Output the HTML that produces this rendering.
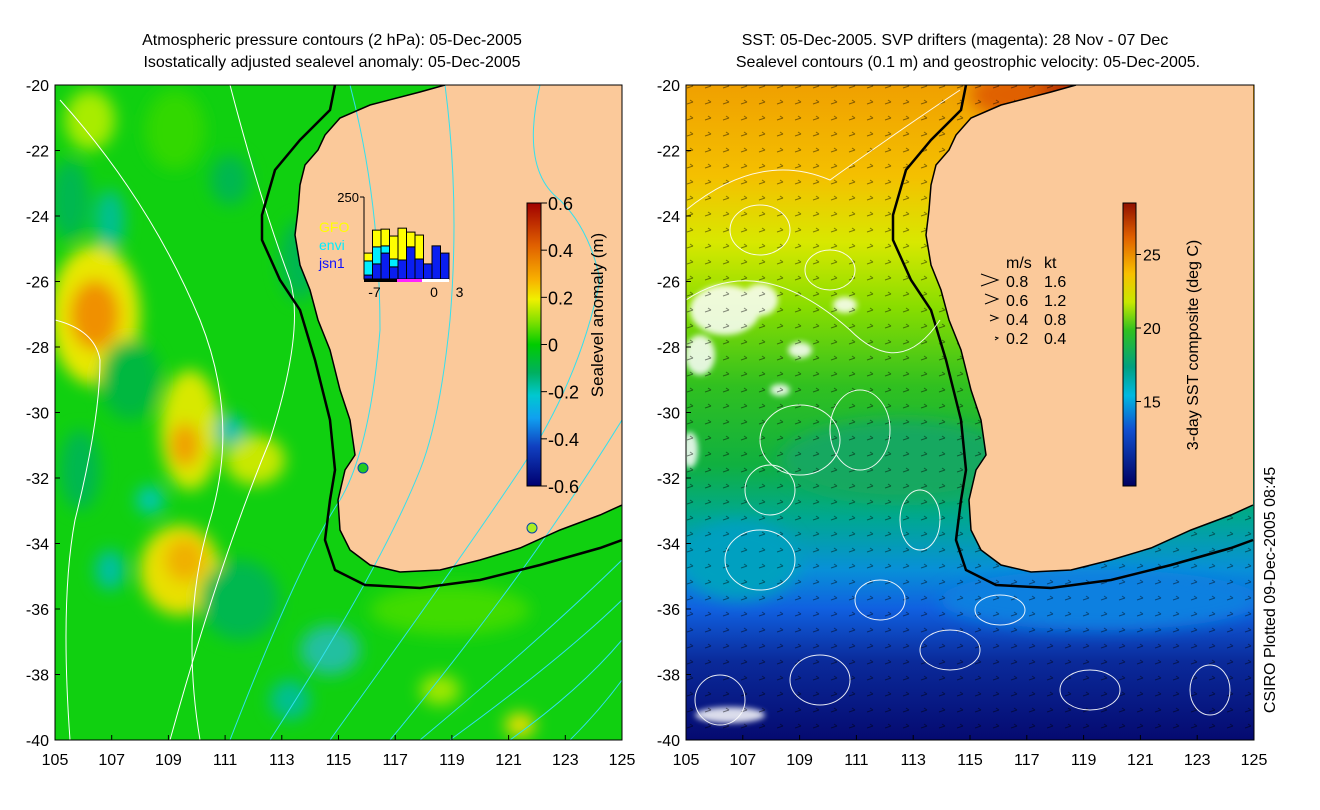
<!DOCTYPE html>
<html><head><meta charset="utf-8"><style>
html,body{margin:0;padding:0;background:#fff}
svg{display:block;font-family:"Liberation Sans",sans-serif}
</style></head><body>
<svg id="root" width="1320" height="810" viewBox="0 0 1320 810">
<defs>
<clipPath id="clipL"><rect x="55" y="85" width="567" height="655"/></clipPath>
<clipPath id="clipR"><rect x="686" y="85" width="568" height="655"/></clipPath>
<filter id="blur8" x="-50%" y="-50%" width="200%" height="200%"><feGaussianBlur stdDeviation="8"/></filter>
<filter id="blur4" x="-50%" y="-50%" width="200%" height="200%"><feGaussianBlur stdDeviation="3"/></filter>
<linearGradient id="sstg" x1="0" y1="0" x2="0" y2="1">
<stop offset="0" stop-color="#f0a000"/><stop offset="0.14" stop-color="#f4c000"/>
<stop offset="0.24" stop-color="#d8e800"/><stop offset="0.34" stop-color="#88dd00"/>
<stop offset="0.46" stop-color="#30c020"/><stop offset="0.58" stop-color="#10b040"/>
<stop offset="0.66" stop-color="#00a890"/><stop offset="0.74" stop-color="#0890d8"/>
<stop offset="0.8" stop-color="#1060e0"/><stop offset="0.88" stop-color="#0a2a9a"/>
<stop offset="1" stop-color="#050a70"/>
</linearGradient>
<linearGradient id="slacb" x1="0" y1="0" x2="0" y2="1">
<stop offset="0" stop-color="#a00000"/><stop offset="0.15" stop-color="#e06000"/>
<stop offset="0.27" stop-color="#f8b000"/><stop offset="0.34" stop-color="#f0f000"/>
<stop offset="0.42" stop-color="#80e000"/><stop offset="0.5" stop-color="#00cc00"/>
<stop offset="0.6" stop-color="#00b060"/><stop offset="0.68" stop-color="#00c8d0"/>
<stop offset="0.76" stop-color="#10a0f0"/><stop offset="0.86" stop-color="#1040c0"/>
<stop offset="1" stop-color="#000070"/>
</linearGradient>
<linearGradient id="sstcb" x1="0" y1="0" x2="0" y2="1">
<stop offset="0" stop-color="#901000"/><stop offset="0.12" stop-color="#e06000"/>
<stop offset="0.25" stop-color="#f8c000"/><stop offset="0.35" stop-color="#c8e800"/>
<stop offset="0.45" stop-color="#30c020"/><stop offset="0.58" stop-color="#00a080"/>
<stop offset="0.68" stop-color="#00b8e0"/><stop offset="0.8" stop-color="#1050d0"/>
<stop offset="1" stop-color="#000060"/>
</linearGradient>
<pattern id="arrows" width="18" height="16" patternUnits="userSpaceOnUse">
<path d="M3 8 L9 6 M9 6 L6 4" stroke="#000" stroke-width="1" fill="none"/>
</pattern>
<g id="landshape">
<path d="M445 85 L420 92 L370 105 L340 118 L325 135 L318 150 L305 165 L300 185 L298 210 L295 235 L300 265 L310 290 L318 320 L330 350 L340 390 L350 420 L355 455 L345 470 L338 500 L340 530 L350 550 L370 565 L400 572 L440 570 L480 560 L520 548 L560 530 L600 515 L622 505 L622 85 Z" fill="#fbc99a"/>
</g>
<g id="shelf">
<path d="M445 85 L420 92 L370 105 L340 118 L325 135 L318 150 L305 165 L300 185 L298 210 L295 235 L300 265 L310 290 L318 320 L330 350 L340 390 L350 420 L355 455 L345 470 L338 500 L340 530 L350 550 L370 565 L400 572 L440 570 L480 560 L520 548 L560 530 L600 515 L622 505" fill="none" stroke="#000" stroke-width="1.5"/>
<path d="M335 85 L330 110 L300 140 L275 170 L262 215 L262 240 L280 280 L300 310 L315 360 L330 420 L335 470 L330 500 L325 540 L335 570 L365 585 L420 588 L480 580 L540 565 L600 548 L622 540" fill="none" stroke="#000" stroke-width="2.5"/>
</g>
</defs>

<!-- LEFT PANEL -->
<g clip-path="url(#clipL)">
<rect x="55" y="85" width="567" height="655" fill="#10d010"/>
<g filter="url(#blur8)">
<ellipse cx="95" cy="315" rx="45" ry="70" fill="#e8e800"/>
<ellipse cx="95" cy="315" rx="25" ry="35" fill="#f09000"/>
<ellipse cx="90" cy="120" rx="25" ry="30" fill="#a8ec00"/>
<ellipse cx="190" cy="430" rx="30" ry="60" fill="#d8e800"/>
<ellipse cx="185" cy="445" rx="15" ry="22" fill="#f0a000"/>
<ellipse cx="180" cy="570" rx="40" ry="45" fill="#e8e000"/>
<ellipse cx="185" cy="560" rx="20" ry="22" fill="#f0b000"/>
<ellipse cx="255" cy="460" rx="30" ry="25" fill="#c8e800"/>
<ellipse cx="150" cy="500" rx="14" ry="14" fill="#00c8b0"/>
<ellipse cx="230" cy="430" rx="15" ry="15" fill="#00c0b0"/>
<ellipse cx="110" cy="220" rx="15" ry="30" fill="#00c090"/>
<ellipse cx="70" cy="200" rx="20" ry="40" fill="#00b850"/>
<ellipse cx="130" cy="380" rx="30" ry="40" fill="#00b840"/>
<ellipse cx="240" cy="600" rx="40" ry="40" fill="#00b850"/>
<ellipse cx="330" cy="650" rx="30" ry="25" fill="#20c0a0"/>
<ellipse cx="440" cy="690" rx="20" ry="15" fill="#a0e800"/>
<ellipse cx="520" cy="725" rx="15" ry="12" fill="#f0e000"/>
<ellipse cx="290" cy="700" rx="20" ry="20" fill="#00c090"/>
<ellipse cx="110" cy="570" rx="15" ry="20" fill="#00c0a0"/>
<ellipse cx="300" cy="260" rx="20" ry="40" fill="#00b850"/>
<ellipse cx="450" cy="610" rx="80" ry="25" fill="#40dc00"/>
<ellipse cx="175" cy="130" rx="30" ry="40" fill="#30d800"/>
<ellipse cx="230" cy="180" rx="20" ry="25" fill="#00b850"/>
<ellipse cx="80" cy="470" rx="20" ry="40" fill="#00b850"/>
</g>
<use href="#landshape"/>
<path d="M60 100 Q150 200 200 320 Q240 420 210 520 Q180 620 200 740" stroke="#fff" fill="none" stroke-width="1"/>
<path d="M55 320 Q95 330 100 360 Q100 420 75 520 Q60 600 70 740" stroke="#fff" fill="none" stroke-width="1"/>
<path d="M230 85 Q260 200 290 280 Q305 330 270 440 Q220 560 170 740" stroke="#fff" fill="none" stroke-width="1"/>
<g stroke="#33e0ee" fill="none" stroke-width="1">
<path d="M350 85 Q380 200 380 330 Q370 450 340 500 Q300 560 230 740"/>
<path d="M445 85 Q460 200 450 320 Q440 420 420 470 Q380 570 270 740"/>
<path d="M540 85 Q520 170 560 200 Q590 230 600 280 Q580 380 520 470 Q460 560 330 740"/>
<path d="M622 420 Q560 520 500 600 Q440 680 390 740"/>
<path d="M622 600 Q560 660 450 740"/>
<path d="M622 640 Q580 690 510 740"/>
<path d="M622 680 Q600 710 570 740"/>
<path d="M622 560 Q540 640 420 740"/>
</g>
<use href="#shelf"/>
<circle cx="363" cy="468" r="5" fill="#22cc22" stroke="#0044aa"/>
<circle cx="532" cy="528" r="5" fill="#aaee22" stroke="#0044aa"/>
</g>
<rect x="55" y="85" width="567" height="655" fill="none" stroke="#000"/>

<!-- RIGHT PANEL -->
<g clip-path="url(#clipR)">
<rect x="686" y="85" width="568" height="655" fill="url(#sstg)"/>
<g filter="url(#blur8)">
<ellipse cx="1060" cy="95" rx="90" ry="30" fill="#e06000"/>
<ellipse cx="1080" cy="90" rx="40" ry="12" fill="#b02000"/>
<ellipse cx="740" cy="560" rx="60" ry="40" fill="#00a0c0"/>
<ellipse cx="1100" cy="600" rx="160" ry="30" fill="#1080e0"/>
<ellipse cx="900" cy="460" rx="120" ry="40" fill="#18a860"/>
</g>
<g filter="url(#blur4)" fill="#fff" opacity="0.85">
<ellipse cx="725" cy="310" rx="35" ry="25"/>
<ellipse cx="760" cy="300" rx="18" ry="16"/>
<ellipse cx="700" cy="355" rx="15" ry="20"/>
<ellipse cx="800" cy="350" rx="12" ry="8"/>
<ellipse cx="690" cy="450" rx="8" ry="18"/>
<ellipse cx="730" cy="715" rx="35" ry="8"/>
<ellipse cx="780" cy="390" rx="10" ry="6"/>
<ellipse cx="845" cy="305" rx="12" ry="8"/>
</g>
<rect x="686" y="85" width="568" height="655" fill="url(#arrows)" opacity="0.45"/>
<g transform="translate(631,0)">
<use href="#landshape"/>
<use href="#shelf"/>
</g>
<g stroke="#fff" fill="none" stroke-width="1" opacity="0.9">
<ellipse cx="760" cy="230" rx="30" ry="25"/><ellipse cx="830" cy="270" rx="25" ry="20"/>
<ellipse cx="800" cy="440" rx="40" ry="35"/><ellipse cx="770" cy="490" rx="25" ry="25"/>
<ellipse cx="860" cy="430" rx="30" ry="40"/><ellipse cx="760" cy="560" rx="35" ry="30"/>
<ellipse cx="880" cy="600" rx="25" ry="20"/><ellipse cx="820" cy="680" rx="30" ry="25"/>
<ellipse cx="950" cy="650" rx="30" ry="20"/><ellipse cx="1210" cy="690" rx="20" ry="25"/>
<ellipse cx="1000" cy="610" rx="25" ry="15"/><ellipse cx="720" cy="700" rx="25" ry="25"/>
<ellipse cx="920" cy="520" rx="20" ry="30"/><ellipse cx="1090" cy="690" rx="30" ry="20"/>
<path d="M686 210 Q760 150 830 180 Q900 130 960 90"/>
<path d="M686 300 Q760 250 850 330 Q900 380 940 320"/>
</g>
</g>
<rect x="686" y="85" width="568" height="655" fill="none" stroke="#000"/>

<!-- velocity legend -->
<g font-size="16" fill="#000">
<text x="1006" y="268">m/s</text><text x="1044" y="268">kt</text>
<text x="1006" y="287">0.8</text><text x="1044" y="287">1.6</text>
<text x="1006" y="306">0.6</text><text x="1044" y="306">1.2</text>
<text x="1006" y="325">0.4</text><text x="1044" y="325">0.8</text>
<text x="1006" y="344">0.2</text><text x="1044" y="344">0.4</text>
<path d="M981 274 L998 280 L981 286 M985 294 L998 299 L985 304 M990 315 L998 318 L990 321 M995 337 L998 338 L995 340" stroke="#000" fill="none"/>
</g>

<!-- titles -->
<g font-size="16" fill="#000" text-anchor="middle">
<text x="332" y="45">Atmospheric pressure contours (2 hPa): 05-Dec-2005</text>
<text x="332" y="67">Isostatically adjusted sealevel anomaly: 05-Dec-2005</text>
<text x="955" y="45">SST: 05-Dec-2005. SVP drifters (magenta): 28 Nov - 07 Dec</text>
<text x="968" y="67">Sealevel contours (0.1 m) and geostrophic velocity: 05-Dec-2005.</text>
</g>
<text transform="translate(1275,590) rotate(-90)" font-size="16" text-anchor="middle">CSIRO Plotted 09-Dec-2005 08:45</text>

<g id="axes"></g>
<g id="cbars"></g>
<g id="inset"></g>
</svg>
<script>
const NS='http://www.w3.org/2000/svg';
const latTicks=[-20,-22,-24,-26,-28,-30,-32,-34,-36,-38,-40];
const lonTicks=[105,107,109,111,113,115,117,119,121,123,125];
const slaTicks=[0.6,0.4,0.2,0,-0.2,-0.4,-0.6];
const sstTicks=[25,20,15];
const insetDays=[-7,0,3];
const jsn1=[12,46,79,37,58,98,61,46,101,79];
const envi=[43,52,22,24,0,0,0,0,0,0];
const gfo=[24,51,51,70,97,45,73,0,0,0];
function el(tag,attrs,parent,txt){const e=document.createElementNS(NS,tag);for(const k in attrs)e.setAttribute(k,attrs[k]);if(txt!==undefined)e.textContent=txt;parent.appendChild(e);return e;}
const yLat=v=>85+(-20-v)*32.75;
const panels=[{x0:55,x1:622},{x0:686,x1:1254}];
const axes=document.getElementById('axes');
panels.forEach((p,pi)=>{
 const xLon=v=>p.x0+(v-105)*(p.x1-p.x0)/20;
 latTicks.forEach(t=>{
  const tx=el('text',{x:p.x0-6,y:yLat(t)+6,'font-size':16,'text-anchor':'end'},axes,String(t));
  
  
  el('line',{x1:p.x0,x2:p.x0+5,y1:yLat(t),y2:yLat(t),stroke:'#000'},axes);
 });
 lonTicks.forEach(t=>{
  const tx=el('text',{x:xLon(t),y:765,'font-size':16,'text-anchor':'middle'},axes,String(t));
  
  
  el('line',{x1:xLon(t),x2:xLon(t),y1:740,y2:735,stroke:'#000'},axes);
 });
});
const cb=document.getElementById('cbars');
const cbTop=203,cbBot=486;
const r1=el('rect',{x:527,y:cbTop,width:14,height:cbBot-cbTop,fill:'url(#slacb)',stroke:'#000'},cb);


const ySla=v=>cbTop+(0.6-v)/1.2*(cbBot-cbTop);
slaTicks.forEach(t=>{
 el('line',{x1:541,x2:547,y1:ySla(t),y2:ySla(t),stroke:'#000'},cb);
 const tx=el('text',{x:548,y:ySla(t)+7,'font-size':18},cb,String(t));
 
 
});
const l1=el('text',{transform:'translate(603,315) rotate(-90)','font-size':17,'text-anchor':'middle'},cb,'Sealevel anomaly (m)');


const r2=el('rect',{x:1123,y:cbTop,width:13,height:cbBot-cbTop,fill:'url(#sstcb)',stroke:'#000'},cb);


const ySst=v=>328+(20-v)*14.7;
sstTicks.forEach(t=>{
 el('line',{x1:1136,x2:1141,y1:ySst(t),y2:ySst(t),stroke:'#000'},cb);
 const tx=el('text',{x:1143,y:ySst(t)+6,'font-size':16},cb,String(t));
 
 
});
const l2=el('text',{transform:'translate(1198,345) rotate(-90)','font-size':16,'text-anchor':'middle'},cb,'3-day SST composite (deg C)');


// inset
const ins=document.getElementById('inset');
const ix0=364,iBase=279,iTop=197,bw=8.5;
const yC=v=>iBase-v/250*(iBase-iTop);
el('line',{x1:ix0,x2:ix0,y1:iTop,y2:iBase,stroke:'#000'},ins);
el('line',{x1:ix0-4,x2:ix0,y1:iTop,y2:iTop,stroke:'#000'},ins);
el('text',{x:ix0-5,y:iTop+5,'font-size':13,'text-anchor':'end'},ins,'250');
jsn1.forEach((v,i)=>{
 const x=ix0+i*bw;
 let base=0;
 [[jsn1[i],'#0a1ef0'],[envi[i],'#00eeff'],[gfo[i],'#ffff00']].forEach(([val,c])=>{
  if(val<=0)return;
  const b=el('rect',{x:x,y:yC(base+val),width:bw,height:yC(base)-yC(base+val),fill:c,stroke:'#000','stroke-width':1},ins);
  
  
  base+=val;
 });
});
el('rect',{x:ix0,y:iBase,width:33,height:3,fill:'#000'},ins);
el('rect',{x:ix0+33,y:iBase,width:25,height:3,fill:'#ff22ff'},ins);
el('rect',{x:ix0+58,y:iBase,width:27,height:3,fill:'#fff'},ins);
const xDay=d=>ix0+(d+8)*8.5;
insetDays.forEach(d=>{el('text',{x:xDay(d)+2,y:iBase+18,'font-size':14,'text-anchor':'middle'},ins,String(d));});
[['GFO','#ffff00',232],['envi','#00eeff',250],['jsn1','#1010ff',268]].forEach(([t,c,y])=>{
 const tx=el('text',{x:319,y:y,'font-size':14,fill:c},ins,t);
 
 
});
</script>
</body></html>
